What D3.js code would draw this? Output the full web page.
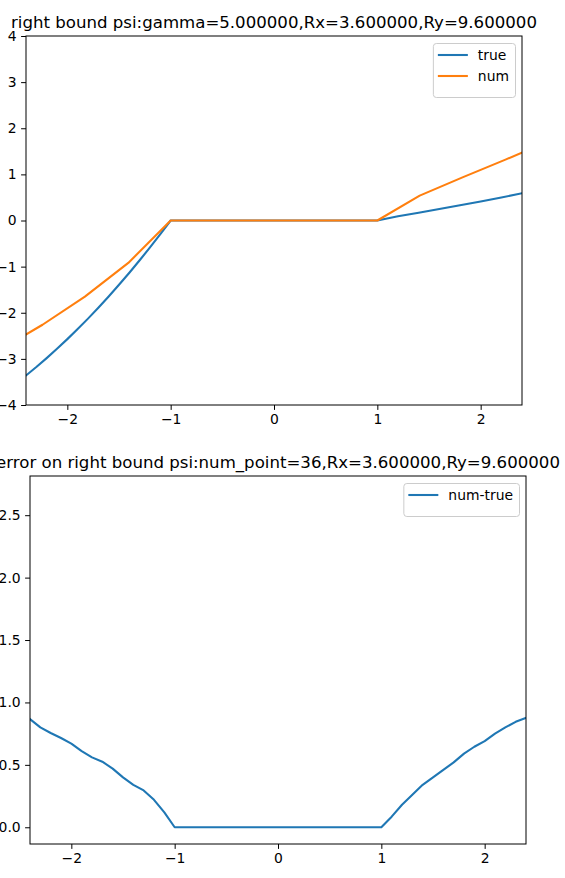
<!DOCTYPE html>
<html>
<head>
<meta charset="utf-8">
<script src="https://d3js.org/d3.v7.min.js"></script>
<style>
  body { margin: 0; background: #fff; }
  svg { font-family: "DejaVu Sans", sans-serif; }
  .tick line { stroke: #000; stroke-width: 1px; }
  .ttl { font-size: 16.6px; fill: #000; }
  .leg { font-size: 13.9px; fill: #000; }
</style>
</head>
<body>
<script>
// ---- data ----
var topTitle = "right bound psi:gamma=5.000000,Rx=3.600000,Ry=9.600000";
var botTitle = "error on right bound psi:num_point=36,Rx=3.600000,Ry=9.600000";

var trueX = [-2.4, -2.3, -2.2, -2.1, -2.0, -1.9, -1.8, -1.7, -1.6, -1.5, -1.4, -1.3, -1.2, -1.1, -1.0,
             0, 1.0, 1.2, 1.4, 1.6, 1.8, 2.0, 2.2, 2.4];
var trueY = [-3.36, -3.176, -2.983, -2.782, -2.572, -2.354, -2.127, -1.891, -1.647, -1.394, -1.132, -0.862, -0.583, -0.296, 0,
             0, 0, 0.09, 0.17, 0.25, 0.33, 0.41, 0.50, 0.59];

var numX = [-2.4, -2.24, -1.83, -1.41, -1.0, 0, 1.0, 1.41, 1.83, 2.24, 2.4];
var numY = [-2.47, -2.26, -1.65, -0.92, 0, 0, 0, 0.54, 0.94, 1.32, 1.47];

var errX = [-2.4, -2.3, -2.2, -2.1, -2.0, -1.9, -1.8, -1.7, -1.6, -1.5, -1.4, -1.3, -1.2, -1.1, -1.0,
            0, 1.0, 1.1, 1.2, 1.3, 1.4, 1.5, 1.6, 1.7, 1.8, 1.9, 2.0, 2.1, 2.2, 2.3, 2.4];
var errY = [0.866, 0.80, 0.755, 0.715, 0.67, 0.61, 0.56, 0.525, 0.47, 0.40, 0.34, 0.295, 0.22, 0.12, 0.0,
            0, 0, 0.085, 0.18, 0.26, 0.34, 0.40, 0.46, 0.52, 0.59, 0.645, 0.69, 0.75, 0.80, 0.845, 0.877];

var xTicks = [-2, -1, 0, 1, 2];
var topYTicks = [-4, -3, -2, -1, 0, 1, 2, 3, 4];
var botYTicks = [0, 0.5, 1.0, 1.5, 2.0, 2.5];

var blue = "#1f77b4", orange = "#ff7f0e";

var svg = d3.select("body").append("svg")
    .attr("width", 565).attr("height", 878);
svg.append("rect").attr("width", 565).attr("height", 878).attr("fill", "#fff");

// draws one panel
function panel(box, yDomain, yTicks, yFmt, series, title, id) {
    var x = d3.scaleLinear().domain([-2.4, 2.4]).range([box.left, box.right]);
    var y = d3.scaleLinear().domain(yDomain).range([box.bottom, box.top]);

    svg.append("clipPath").attr("id", id)
        .append("rect")
        .attr("x", box.left).attr("y", box.top)
        .attr("width", box.right - box.left).attr("height", box.bottom - box.top);

    var line = d3.line().x(function(d) { return x(d[0]); }).y(function(d) { return y(d[1]); });

    series.forEach(function(s) {
        var pts = s.xs.map(function(v, i) { return [v, s.ys[i]]; });
        svg.append("path")
            .attr("clip-path", "url(#" + id + ")")
            .attr("d", line(pts))
            .attr("fill", "none")
            .attr("stroke", s.color)
            .attr("stroke-width", 2.08)
            .attr("stroke-linejoin", "round")
            .attr("stroke-linecap", "square");
    });

    var ax = svg.append("g")
        .attr("transform", "translate(0," + box.bottom + ")")
        .call(d3.axisBottom(x).tickValues(xTicks).tickSize(4.9).tickPadding(4.4).tickFormat(d3.format("d")));
    ax.select(".domain").remove();

    var ay = svg.append("g")
        .attr("transform", "translate(" + box.left + ",0)")
        .call(d3.axisLeft(y).tickValues(yTicks).tickSize(4.9).tickPadding(4.4).tickFormat(d3.format(yFmt)));
    ay.select(".domain").remove();

    [ax, ay].forEach(function(a) {
        a.attr("font-family", null).attr("font-size", null);
        a.selectAll("text")
            .style("font-family", "'DejaVu Sans', sans-serif")
            .style("font-size", "13.9px")
            .style("fill", "#000");
    });

    svg.append("rect")
        .attr("x", box.left).attr("y", box.top)
        .attr("width", box.right - box.left).attr("height", box.bottom - box.top)
        .attr("fill", "none").attr("stroke", "#000").attr("stroke-width", 1);

    svg.append("text").attr("class", "ttl")
        .attr("x", (box.left + box.right) / 2).attr("y", box.top - 8)
        .attr("text-anchor", "middle")
        .text(title);

    // legend
    var lg = svg.append("g");
    var rows = lg.selectAll("g").data(series).enter().append("g");
    rows.append("text").attr("class", "leg")
        .attr("dy", "0.35em")
        .text(function(d) { return d.name; });
    var maxW = 0;
    rows.selectAll("text").each(function() { maxW = Math.max(maxW, this.getComputedTextLength()); });
    var w = 5 + 30 + 10 + maxW + 6;
    var h = 8 + series.length * 21 + 4;
    var lx = box.right - 7 - w, ly = box.top + 7;
    lg.insert("rect", ":first-child")
        .attr("x", lx + 0.5).attr("y", ly + 0.5)
        .attr("width", w).attr("height", h)
        .attr("rx", 3).attr("fill", "#fff").attr("fill-opacity", 0.8)
        .attr("stroke", "#cccccc").attr("stroke-width", 1);
    rows.each(function(d, i) {
        var cy = ly + 12 + i * 21;
        var r = d3.select(this);
        r.append("line")
            .attr("x1", lx + 5).attr("x2", lx + 35)
            .attr("y1", cy).attr("y2", cy)
            .attr("stroke", d.color).attr("stroke-width", 2.08);
        r.select("text").attr("x", lx + 45).attr("y", cy);
    });
}

panel({left: 26, right: 522, top: 36, bottom: 405}, [-4, 4], topYTicks, "d",
    [{name: "true", color: blue, xs: trueX, ys: trueY},
     {name: "num", color: orange, xs: numX, ys: numY}],
    topTitle, "c1");

panel({left: 30, right: 526, top: 476, bottom: 844}, [-0.134, 2.814], botYTicks, ".1f",
    [{name: "num-true", color: blue, xs: errX, ys: errY}],
    botTitle, "c2");
</script>
</body>
</html>
